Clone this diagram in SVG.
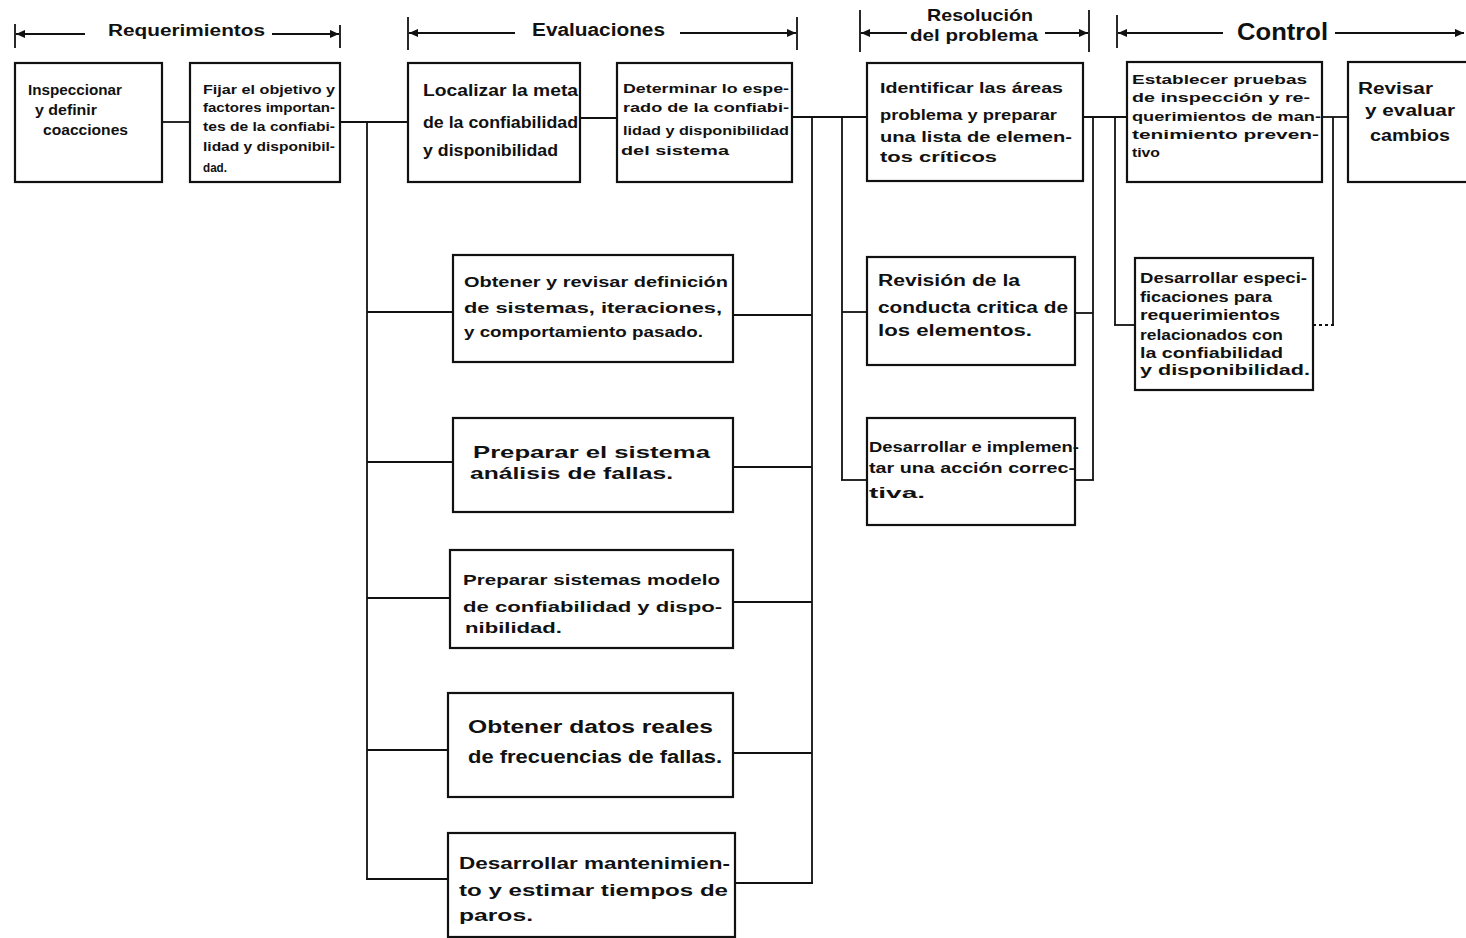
<svg xmlns="http://www.w3.org/2000/svg" width="1466" height="938" viewBox="0 0 1466 938">
  <defs>
    <style>
      .box { fill: #ffffff; stroke: #111111; stroke-width: 2.2; }
      .wire { fill: none; stroke: #111111; stroke-width: 1.8; }
      .dots { fill: none; stroke: #111111; stroke-width: 1.8; stroke-dasharray: 3 3; }
      .tick { stroke: #111111; stroke-width: 1.8; }
      .t { font-family: "Liberation Sans", Arial, sans-serif; font-weight: bold; fill: #111111; }
    </style>
    <marker id="head" viewBox="0 0 10 10" refX="10" refY="5" markerWidth="11" markerHeight="9" markerUnits="userSpaceOnUse" orient="auto">
      <path d="M0,0.5 L10,5 L0,9.5 z" fill="#111111"/>
    </marker>
  </defs>

  <rect x="0" y="0" width="1466" height="938" fill="#ffffff"/>

  <!-- phase headers with span arrows -->
  <g id="phase-headers">
    <line class="tick" x1="15" y1="24" x2="15" y2="48"/>
    <line class="wire" x1="85" y1="34" x2="16" y2="34" marker-end="url(#head)"/>
    <text class="t" x="108" y="36" font-size="16" textLength="157" lengthAdjust="spacingAndGlyphs">Requerimientos</text>
    <line class="wire" x1="272" y1="34" x2="339" y2="34" marker-end="url(#head)"/>
    <line class="tick" x1="340" y1="25" x2="340" y2="48"/>

    <line class="tick" x1="408" y1="17" x2="408" y2="50"/>
    <line class="wire" x1="515" y1="33" x2="409" y2="33" marker-end="url(#head)"/>
    <text class="t" x="532" y="36" font-size="18" textLength="133" lengthAdjust="spacingAndGlyphs">Evaluaciones</text>
    <line class="wire" x1="680" y1="33" x2="796" y2="33" marker-end="url(#head)"/>
    <line class="tick" x1="797" y1="17" x2="797" y2="50"/>

    <line class="tick" x1="860" y1="10" x2="860" y2="52"/>
    <text class="t" x="927" y="21" font-size="17" textLength="106" lengthAdjust="spacingAndGlyphs">Resolución</text>
    <line class="wire" x1="907" y1="33" x2="861" y2="33" marker-end="url(#head)"/>
    <text class="t" x="910" y="41" font-size="17" textLength="128" lengthAdjust="spacingAndGlyphs">del problema</text>
    <line class="wire" x1="1045" y1="33" x2="1088" y2="33" marker-end="url(#head)"/>
    <line class="tick" x1="1089" y1="10" x2="1089" y2="52"/>

    <line class="tick" x1="1117" y1="15" x2="1117" y2="48"/>
    <line class="wire" x1="1223" y1="33" x2="1118" y2="33" marker-end="url(#head)"/>
    <text class="t" x="1237" y="40" font-size="24" textLength="91" lengthAdjust="spacingAndGlyphs">Control</text>
    <line class="wire" x1="1335" y1="33" x2="1464" y2="33" marker-end="url(#head)"/>
  </g>

  <!-- connectors -->
  <g id="connectors">
    <!-- top row chain -->
    <line class="wire" x1="162" y1="122" x2="190" y2="122"/>
    <line class="wire" x1="340" y1="122" x2="408" y2="122"/>
    <line class="wire" x1="580" y1="118" x2="617" y2="118"/>
    <line class="wire" x1="792" y1="117" x2="867" y2="117"/>
    <line class="wire" x1="1083" y1="117" x2="1127" y2="117"/>
    <line class="wire" x1="1322" y1="117" x2="1348" y2="117"/>

    <!-- evaluation buses -->
    <line class="wire" x1="367" y1="122" x2="367" y2="879"/>
    <line class="wire" x1="367" y1="312" x2="453" y2="312"/>
    <line class="wire" x1="367" y1="462" x2="453" y2="462"/>
    <line class="wire" x1="367" y1="598" x2="450" y2="598"/>
    <line class="wire" x1="367" y1="750" x2="448" y2="750"/>
    <line class="wire" x1="366" y1="879" x2="448" y2="879"/>

    <line class="wire" x1="812" y1="117" x2="812" y2="883"/>
    <line class="wire" x1="733" y1="315" x2="812" y2="315"/>
    <line class="wire" x1="733" y1="467" x2="812" y2="467"/>
    <line class="wire" x1="733" y1="602" x2="812" y2="602"/>
    <line class="wire" x1="733" y1="753" x2="812" y2="753"/>
    <line class="wire" x1="735" y1="883" x2="813" y2="883"/>

    <!-- problem resolution buses -->
    <line class="wire" x1="842" y1="117" x2="842" y2="480"/>
    <line class="wire" x1="842" y1="312" x2="867" y2="312"/>
    <line class="wire" x1="841" y1="480" x2="867" y2="480"/>

    <line class="wire" x1="1093" y1="117" x2="1093" y2="480"/>
    <line class="wire" x1="1075" y1="313" x2="1093" y2="313"/>
    <line class="wire" x1="1075" y1="480" x2="1094" y2="480"/>

    <!-- control buses -->
    <line class="wire" x1="1115" y1="117" x2="1115" y2="325"/>
    <line class="wire" x1="1114" y1="325" x2="1135" y2="325"/>
    <line class="wire" x1="1333" y1="117" x2="1333" y2="325"/>
    <line class="dots" x1="1313" y1="325" x2="1334" y2="325"/>
  </g>

  <!-- Requerimientos -->
  <g id="n-inspeccionar">
    <rect class="box" x="15" y="63" width="147" height="119"/>
    <text class="t" font-size="14">
      <tspan x="28" y="95" textLength="94" lengthAdjust="spacingAndGlyphs">Inspeccionar</tspan>
      <tspan x="35" y="115" textLength="62" lengthAdjust="spacingAndGlyphs">y definir</tspan>
      <tspan x="43" y="135" textLength="85" lengthAdjust="spacingAndGlyphs">coacciones</tspan>
    </text>
  </g>

  <g id="n-fijar-objetivo">
    <rect class="box" x="190" y="63" width="150" height="119"/>
    <text class="t" font-size="12.5">
      <tspan x="203" y="94" textLength="132" lengthAdjust="spacingAndGlyphs">Fijar el objetivo y</tspan>
      <tspan x="203" y="112" textLength="132" lengthAdjust="spacingAndGlyphs">factores importan-</tspan>
      <tspan x="203" y="131" textLength="132" lengthAdjust="spacingAndGlyphs">tes de la confiabi-</tspan>
      <tspan x="203" y="151" textLength="132" lengthAdjust="spacingAndGlyphs">lidad y disponibil-</tspan>
      <tspan x="203" y="172" textLength="24" lengthAdjust="spacingAndGlyphs">dad.</tspan>
    </text>
  </g>

  <!-- Evaluaciones -->
  <g id="n-localizar-meta">
    <rect class="box" x="408" y="63" width="172" height="119"/>
    <text class="t" font-size="16">
      <tspan x="423" y="96" textLength="155" lengthAdjust="spacingAndGlyphs">Localizar la meta</tspan>
      <tspan x="423" y="128" textLength="155" lengthAdjust="spacingAndGlyphs">de la confiabilidad</tspan>
      <tspan x="423" y="156" textLength="135" lengthAdjust="spacingAndGlyphs">y disponibilidad</tspan>
    </text>
  </g>

  <g id="n-determinar-esperado">
    <rect class="box" x="617" y="63" width="175" height="119"/>
    <text class="t" font-size="13">
      <tspan x="623" y="93" textLength="166" lengthAdjust="spacingAndGlyphs">Determinar lo espe-</tspan>
      <tspan x="623" y="112" textLength="166" lengthAdjust="spacingAndGlyphs">rado de la confiabi-</tspan>
      <tspan x="623" y="135" textLength="166" lengthAdjust="spacingAndGlyphs">lidad y disponibilidad</tspan>
      <tspan x="621" y="155" textLength="108" lengthAdjust="spacingAndGlyphs">del sistema</tspan>
    </text>
  </g>

  <g id="n-obtener-definicion">
    <rect class="box" x="453" y="255" width="280" height="107"/>
    <text class="t" font-size="15">
      <tspan x="464" y="287" textLength="264" lengthAdjust="spacingAndGlyphs">Obtener y revisar definición</tspan>
      <tspan x="464" y="313" textLength="258" lengthAdjust="spacingAndGlyphs">de sistemas, iteraciones,</tspan>
      <tspan x="464" y="337" textLength="239" lengthAdjust="spacingAndGlyphs">y comportamiento pasado.</tspan>
    </text>
  </g>

  <g id="n-analisis-fallas">
    <rect class="box" x="453" y="418" width="280" height="94"/>
    <text class="t" font-size="17">
      <tspan x="473" y="458" textLength="237" lengthAdjust="spacingAndGlyphs">Preparar el sistema</tspan>
      <tspan x="470" y="479" textLength="203" lengthAdjust="spacingAndGlyphs">análisis de fallas.</tspan>
    </text>
  </g>

  <g id="n-modelo-confiabilidad">
    <rect class="box" x="450" y="550" width="283" height="98"/>
    <text class="t" font-size="15">
      <tspan x="463" y="585" textLength="257" lengthAdjust="spacingAndGlyphs">Preparar sistemas modelo</tspan>
      <tspan x="463" y="612" textLength="259" lengthAdjust="spacingAndGlyphs">de confiabilidad y dispo-</tspan>
      <tspan x="465" y="633" textLength="97" lengthAdjust="spacingAndGlyphs">nibilidad.</tspan>
    </text>
  </g>

  <g id="n-datos-reales">
    <rect class="box" x="448" y="693" width="285" height="104"/>
    <text class="t" font-size="18">
      <tspan x="468" y="733" textLength="245" lengthAdjust="spacingAndGlyphs">Obtener datos reales</tspan>
      <tspan x="468" y="763" textLength="254" lengthAdjust="spacingAndGlyphs">de frecuencias de fallas.</tspan>
    </text>
  </g>

  <g id="n-mantenimiento">
    <rect class="box" x="448" y="833" width="287" height="104"/>
    <text class="t" font-size="16">
      <tspan x="459" y="869" textLength="271" lengthAdjust="spacingAndGlyphs">Desarrollar mantenimien-</tspan>
      <tspan x="459" y="896" textLength="269" lengthAdjust="spacingAndGlyphs">to y estimar tiempos de</tspan>
      <tspan x="459" y="921" textLength="74" lengthAdjust="spacingAndGlyphs">paros.</tspan>
    </text>
  </g>

  <!-- Resolución del problema -->
  <g id="n-identificar-areas">
    <rect class="box" x="867" y="63" width="216" height="118"/>
    <text class="t" font-size="15">
      <tspan x="880" y="93" textLength="183" lengthAdjust="spacingAndGlyphs">Identificar las áreas</tspan>
      <tspan x="880" y="120" textLength="177" lengthAdjust="spacingAndGlyphs">problema y preparar</tspan>
      <tspan x="880" y="142" textLength="192" lengthAdjust="spacingAndGlyphs">una lista de elemen-</tspan>
      <tspan x="880" y="162" textLength="117" lengthAdjust="spacingAndGlyphs">tos críticos</tspan>
    </text>
  </g>

  <g id="n-revision-conducta">
    <rect class="box" x="867" y="257" width="208" height="108"/>
    <text class="t" font-size="16">
      <tspan x="878" y="286" textLength="142" lengthAdjust="spacingAndGlyphs">Revisión de la</tspan>
      <tspan x="878" y="313" textLength="190" lengthAdjust="spacingAndGlyphs">conducta critica de</tspan>
      <tspan x="878" y="336" textLength="154" lengthAdjust="spacingAndGlyphs">los elementos.</tspan>
    </text>
  </g>

  <g id="n-accion-correctiva">
    <rect class="box" x="867" y="418" width="208" height="107"/>
    <text class="t" font-size="14">
      <tspan x="869" y="452" textLength="210" lengthAdjust="spacingAndGlyphs">Desarrollar e implemen-</tspan>
      <tspan x="869" y="473" textLength="206" lengthAdjust="spacingAndGlyphs">tar una acción correc-</tspan>
      <tspan x="869" y="498" textLength="56" lengthAdjust="spacingAndGlyphs">tiva.</tspan>
    </text>
  </g>

  <!-- Control -->
  <g id="n-pruebas-inspeccion">
    <rect class="box" x="1127" y="62" width="195" height="120"/>
    <text class="t" font-size="12.5">
      <tspan x="1132" y="84" textLength="175" lengthAdjust="spacingAndGlyphs">Establecer pruebas</tspan>
      <tspan x="1132" y="102" textLength="178" lengthAdjust="spacingAndGlyphs">de inspección y re-</tspan>
      <tspan x="1132" y="121" textLength="189" lengthAdjust="spacingAndGlyphs">querimientos de man-</tspan>
      <tspan x="1132" y="139" textLength="187" lengthAdjust="spacingAndGlyphs">tenimiento preven-</tspan>
      <tspan x="1132" y="157" textLength="28" lengthAdjust="spacingAndGlyphs">tivo</tspan>
    </text>
  </g>

  <g id="n-especificaciones">
    <rect class="box" x="1135" y="258" width="178" height="132"/>
    <text class="t" font-size="14">
      <tspan x="1140" y="283" textLength="167" lengthAdjust="spacingAndGlyphs">Desarrollar especi-</tspan>
      <tspan x="1140" y="302" textLength="132" lengthAdjust="spacingAndGlyphs">ficaciones para</tspan>
      <tspan x="1140" y="320" textLength="140" lengthAdjust="spacingAndGlyphs">requerimientos</tspan>
      <tspan x="1140" y="340" textLength="143" lengthAdjust="spacingAndGlyphs">relacionados con</tspan>
      <tspan x="1140" y="358" textLength="143" lengthAdjust="spacingAndGlyphs">la confiabilidad</tspan>
      <tspan x="1140" y="375" textLength="170" lengthAdjust="spacingAndGlyphs">y disponibilidad.</tspan>
    </text>
  </g>

  <g id="n-revisar-cambios">
    <rect class="box" x="1348" y="62" width="130" height="120"/>
    <text class="t" font-size="16">
      <tspan x="1358" y="94" textLength="75" lengthAdjust="spacingAndGlyphs">Revisar</tspan>
      <tspan x="1365" y="116" textLength="90" lengthAdjust="spacingAndGlyphs">y evaluar</tspan>
      <tspan x="1370" y="141" textLength="80" lengthAdjust="spacingAndGlyphs">cambios</tspan>
    </text>
  </g>
</svg>
